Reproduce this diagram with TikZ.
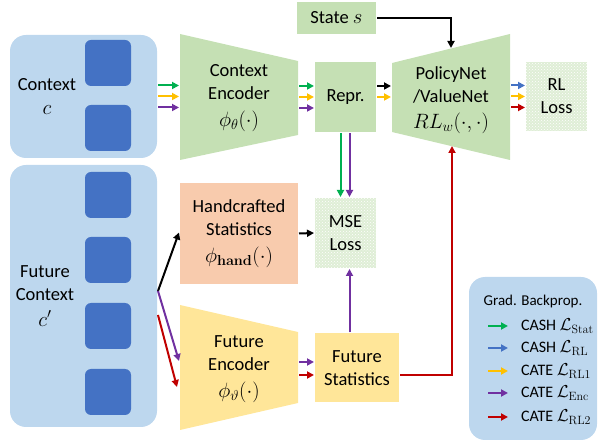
\documentclass[tikz,border=0pt]{standalone}
\usepackage{amsmath}
\usepackage{amssymb}
\usepackage[no-math]{fontspec}
\setmainfont{Carlito}
\usetikzlibrary{arrows.meta,patterns}
\DeclareMathSizes{18.5}{20.74}{14.4}{12}
\DeclareMathSizes{16}{17.28}{13}{10}
\definecolor{ctxblue}{HTML}{BDD7EE}
\definecolor{sqblue}{HTML}{4472C4}
\definecolor{encgreen}{HTML}{C5E0B4}
\definecolor{handorange}{HTML}{F8CBAD}
\definecolor{futyellow}{HTML}{FFE699}
\definecolor{agreen}{HTML}{00B050}
\definecolor{ablue}{HTML}{4472C4}
\definecolor{agold}{HTML}{FFC000}
\definecolor{apurple}{HTML}{7030A0}
\definecolor{ared}{HTML}{C00000}

\begin{document}
\begin{tikzpicture}[x=1pt,y=-1pt,->,>={Triangle[length=7pt,width=7pt]},line width=2pt,
		font=\fontsize{18.5}{23}\selectfont]
		\tikzstyle{ctx}=[fill=ctxblue,rounded corners=16pt,inner sep=0pt]
		\tikzstyle{sq}=[fill=sqblue,rounded corners=6pt,minimum size=46pt,inner sep=0pt]
		\tikzstyle{box}=[inner sep=0pt,align=center]
		\tikzstyle{loss}=[box,preaction={fill=encgreen!55},pattern=crosshatch dots,pattern color=white]
		
		\useasboundingbox (0,0) rectangle (600,443);
		
		% context and future context
		\node[ctx,minimum width=147pt,minimum height=123pt] (ctx) at (83.5,96.5) {};
		\node[sq] (s1) at (108,63) {};
		\node[sq] (s2) at (108,128) {};
		\node[box] (ctxtext) at (47,97) {Context\\[1pt]$c$};
		
		\node[ctx,minimum width=147pt,minimum height=262pt] (fut) at (83.5,296) {};
		\foreach \y [count=\i] in {195,260,326,392}
			\node[sq] (f\i) at (108,\y) {};
		\node[box] (futtext) at (45,296) {Future\\Context\\[3pt]$c'$};
		
		% encoders
		\fill[encgreen] (180,34) -- (298,61) -- (298,135) -- (180,160) -- cycle;
		\node[box,minimum width=118pt,minimum height=126pt] (cenc) at (239,98) {Context\\Encoder\\[4pt]$\phi_\theta(\cdot)$};
		\fill[futyellow] (180,305) -- (298,332) -- (298,403) -- (180,430) -- cycle;
		\node[box,minimum width=118pt,minimum height=125pt] (fenc) at (239,369) {Future\\Encoder\\[4pt]$\phi_\vartheta(\cdot)$};
		\fill[encgreen] (392,63) -- (510,34) -- (510,160) -- (392,132) -- cycle;
		\node[box,minimum width=118pt,minimum height=126pt] (pol) at (451,100) {PolicyNet\\/ValueNet\\[3pt]$RL_w(\cdot,\cdot)$};
		
		\node[box,fill=encgreen,minimum width=61pt,minimum height=70pt] (repr) at (345.5,97) {Repr.};
		\node[box,fill=encgreen,minimum width=79pt,minimum height=32pt] (state) at (336.5,18) {State $s$};
		\node[loss,minimum width=61pt,minimum height=69pt] (rl) at (556.5,96.5) {RL\\Loss};
		\node[box,fill=handorange,minimum width=118pt,minimum height=101pt] (hand) at (239,233.5) {Handcrafted\\Statistics\\[4pt]$\phi_{\mathbf{hand}}(\cdot)$};
		\node[loss,minimum width=61pt,minimum height=70pt] (mse) at (345.5,233) {MSE\\Loss};
		\node[box,fill=futyellow,minimum width=84pt,minimum height=69pt] (fstat) at (357,368) {Future\\Statistics};
		
		\coordinate (poltop) at (451,48);
		\coordinate (polbot) at (452,146);
		\coordinate (msein) at ([xshift=4pt]mse.south);
		\coordinate (reprout) at ([yshift=11pt]repr.east);
		\coordinate (encout) at (cenc.east |- repr.east);
		\coordinate (rlin) at ([yshift=11pt]rl.west);
		\coordinate (rlin2) at ([yshift=-11pt]rl.west);
		\coordinate (fencout) at (fenc.east |- fstat.west);
		
		% arrows
		\draw[agreen] ([yshift=11pt]ctx.east) -- ([yshift=11pt]ctx.east -| cenc.west);
		\draw[agold] (ctx.east) -- (ctx.east -| cenc.west);
		\draw[apurple] ([yshift=-11pt]ctx.east) -- ([yshift=-11pt]ctx.east -| cenc.west);
		\draw[agreen] ([yshift=11pt]encout) -- ([yshift=11pt]repr.west);
		\draw[agold] (encout) -- (repr.west);
		\draw[apurple] ([yshift=-11pt]encout) -- ([yshift=-11pt]repr.west);
		\draw[black] (reprout) -- (pol.west |- reprout);
		\draw[agold] (repr.east) -- (pol.west |- repr.east);
		\draw[ablue] (pol.east |- rlin) -- (rlin);
		\draw[agold] (pol.east |- rl.west) -- (rl.west);
		\draw[ared] (pol.east |- rlin2) -- (rlin2);
		\draw[black] (state.east) -| (poltop);
		\draw[agreen] ([xshift=-5pt]repr.south) -- ([xshift=-5pt]mse.north);
		\draw[apurple] ([xshift=4pt]repr.south) -- ([xshift=4pt]mse.north);
		\draw[black] (hand.east) -- (mse.west);
		\draw[apurple] (fstat.north -| msein) -- (msein);
		\draw[apurple] ([yshift=6pt]fencout) -- ([yshift=6pt]fstat.west);
		\draw[ared] ([yshift=-7pt]fencout) -- ([yshift=-7pt]fstat.west);
		\draw[ared] ([yshift=-7pt]fstat.east) -| (polbot);
		\draw[black] ([yshift=5pt]fut.east) -- ([yshift=1pt]hand.west);
		\draw[apurple] ([yshift=5pt]fut.east) -- ([yshift=8pt]fenc.west);
		\draw[ared] ([yshift=-19pt]fut.east) -- ([xshift=-2pt,yshift=-18pt]fenc.west);
		
		% legend
		\node[ctx,minimum width=128pt,minimum height=163pt] (leg) at (533,358.5) {};
		\node[box,font=\fontsize{15}{18}\selectfont] (legtitle) at (533,302) {Grad. Backprop.};
		\foreach \c/\t/\y [count=\i] in {agreen/CASH $\mathcal{L}_{\mathrm{Stat}}$/326,
				ablue/CASH $\mathcal{L}_{\mathrm{RL}}$/348,
				agold/CATE $\mathcal{L}_{\mathrm{RL1}}$/371,
				apurple/CATE $\mathcal{L}_{\mathrm{Enc}}$/393,
				ared/CATE $\mathcal{L}_{\mathrm{RL2}}$/417} {
			\coordinate (l\i) at (488,\y);
			\node[anchor=west,inner sep=4pt,font=\fontsize{16}{18}\selectfont] (e\i) at (516,\y) {\t};
			\draw[\c,shorten >=8pt] (l\i) -- (e\i.west);
		}
	\end{tikzpicture}
\end{document}
